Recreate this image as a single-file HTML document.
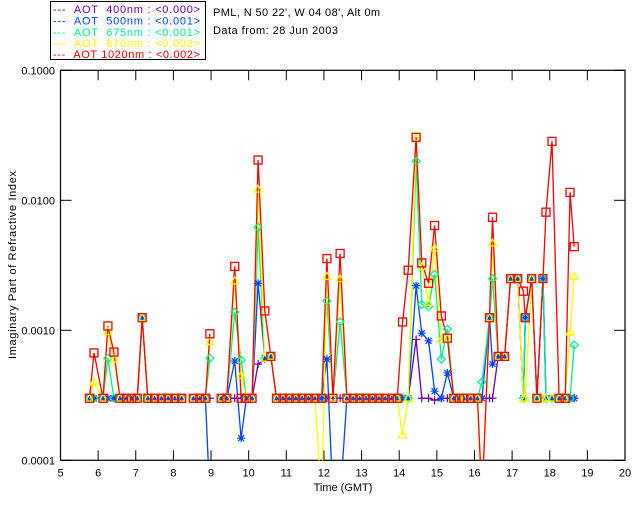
<!DOCTYPE html>
<html><head><meta charset="utf-8"><style>
html,body{margin:0;padding:0;background:#fff;}
svg{display:block;font-family:"Liberation Sans",sans-serif;}
</style></head><body>
<svg id="chart" width="640" height="512" viewBox="0 0 640 512" xmlns="http://www.w3.org/2000/svg">
<rect width="640" height="512" fill="#fff"/>
<g>
<rect x="50.5" y="1.5" width="155" height="58" fill="#fff" stroke="#000" stroke-width="1"/>
<text x="53" y="13" font-size="11" fill="#6600aa" textLength="147" lengthAdjust="spacing">--- &#160;AOT &#160;400nm : &lt;0.000&gt;</text>
<text x="53" y="24.5" font-size="11" fill="#0044ff" textLength="147" lengthAdjust="spacing">--- &#160;AOT &#160;500nm : &lt;0.001&gt;</text>
<text x="53" y="36" font-size="11" fill="#00ee88" textLength="147" lengthAdjust="spacing">--- &#160;AOT &#160;675nm : &lt;0.001&gt;</text>
<text x="53" y="47" font-size="11" fill="#ffff00" textLength="147" lengthAdjust="spacing">--- &#160;AOT &#160;870nm : &lt;0.002&gt;</text>
<text x="53" y="58" font-size="11" fill="#ff0000" textLength="147" lengthAdjust="spacing">--- &#160;AOT 1020nm : &lt;0.002&gt;</text>
</g>
<text x="213" y="16" font-size="11" fill="#000" textLength="167" lengthAdjust="spacing">PML, N 50 22', W 04 08', Alt 0m</text>
<text x="213" y="34" font-size="11" fill="#000" textLength="125" lengthAdjust="spacing">Data from: 28 Jun 2003</text>
<g id="axes"></g>
<defs><clipPath id="clip"><rect x="60.5" y="70" width="565" height="390.5"/></clipPath></defs>
<g id="series" clip-path="url(#clip)"></g>
<g id="markers" clip-path="url(#clip)"></g>
<text x="16" y="265" font-size="11" fill="#000" text-anchor="middle" textLength="188" lengthAdjust="spacing" transform="rotate(-90 16 265)">Imaginary Part of Refractive Index</text>
<text x="343" y="491" font-size="11" fill="#000" text-anchor="middle">Time (GMT)</text>
</svg>
<script>
const B = 0.0003, L = 0.00005;
const times = [5.77,5.89,6.13,6.26,6.42,6.58,6.75,6.89,7.04,7.17,7.32,7.50,7.68,7.86,8.04,8.22,8.38,8.53,8.70,8.85,8.97,9.12,9.27,9.42,9.63,9.80,9.94,10.09,10.25,10.43,10.59,10.74,10.91,11.08,11.25,11.42,11.59,11.76,11.94,12.08,12.24,12.43,12.61,12.78,12.95,13.12,13.29,13.46,13.63,13.80,13.95,14.09,14.24,14.45,14.60,14.78,14.94,15.12,15.28,15.45,15.60,15.72,15.90,16.08,16.20,16.40,16.48,16.63,16.80,16.96,17.15,17.30,17.35,17.52,17.66,17.82,17.90,18.06,18.25,18.41,18.54,18.65];
const aot400 = [B,B,B,B,B,B,B,B,B,0.00125,B,B,B,B,B,B,null,B,B,B,B,null,B,B,B,B,B,B,0.00055,0.0006,0.00063,B,B,B,B,B,B,B,B,B,B,B,B,B,B,B,B,B,B,B,B,B,B,0.00085,B,B,0.00029,B,B,B,B,B,B,B,B,B,B,0.00063,0.00063,0.0025,0.0025,B,0.00125,0.0025,B,0.0025,B,B,B,B,B,B];
const aot500 = [B,B,B,B,B,B,B,B,B,0.00125,B,B,B,B,B,B,null,B,B,B,L,null,B,B,0.00058,0.000148,B,B,0.0023,0.00061,0.00063,B,B,B,B,B,B,B,B,0.0006,L,L,B,B,B,B,B,B,B,B,B,B,B,0.0022,0.00095,0.00083,0.00034,B,0.00047,B,B,B,B,B,B,0.00125,0.00055,0.00063,0.00063,0.0025,0.0025,B,0.00125,0.0025,B,0.0025,B,B,B,B,B,B];
const aot675 = [B,B,B,0.00061,B,B,B,B,B,0.00125,B,B,B,B,B,B,null,B,B,B,0.00061,null,B,B,0.00138,0.00059,B,B,0.0062,0.00061,0.00063,B,B,B,B,B,B,B,B,0.00168,B,0.00116,B,B,B,B,B,B,B,B,B,B,B,0.02,0.00158,0.00152,0.0027,0.0006,0.00102,B,B,B,B,B,0.0004,0.00125,0.0025,0.00063,0.00063,0.0025,0.0025,B,0.00125,0.0025,B,0.0025,B,B,B,B,B,0.00077];
const aot870 = [B,0.0004,B,0.00098,0.0006,B,B,B,B,0.00125,B,B,B,B,B,B,null,B,B,B,0.00082,null,B,B,0.0024,0.00045,B,B,0.0122,0.00061,0.00063,B,B,B,B,B,B,B,L,0.0026,B,0.0025,B,B,B,B,B,B,B,B,B,0.000157,B,0.0305,0.0031,0.00164,0.0043,0.00085,0.00087,B,B,B,B,B,L,0.00125,0.0047,0.00063,0.00063,0.0025,0.0025,B,B,0.0025,B,B,B,B,B,B,0.00097,0.0026];
const aot1020 = [B,0.00067,B,0.00108,0.00068,B,B,B,B,0.00125,B,B,B,B,B,B,null,B,B,B,0.00094,null,B,B,0.0031,B,B,B,0.0204,0.00141,0.00063,B,B,B,B,B,B,B,B,0.00356,B,0.0039,B,B,B,B,B,B,B,B,B,0.00116,0.0029,0.0305,0.0033,0.0023,0.0064,0.00129,0.00087,B,B,B,B,B,L,0.00125,0.0074,0.00063,0.00063,0.0025,0.0025,0.002,0.00125,0.0025,B,0.0025,0.0081,0.0284,B,B,0.0115,0.0044];
const xTicks = [5,6,7,8,9,10,11,12,13,14,15,16,17,18,19,20];
const yTicks = [0.0001,0.001,0.01,0.1];
const yTickLabels = ["0.0001","0.0010","0.0100","0.1000"];

const X0=60.5,X1=625,Y0=460.3,Y1=70.3;
function xs(t){return X0+(t-5)/15*(X1-X0);}
function ys(v){return Y0-(Math.log10(v)+4)/3*(Y0-Y1);}
const NS="http://www.w3.org/2000/svg";
function mk(tag,attrs,parent){const e=document.createElementNS(NS,tag);for(const k in attrs)e.setAttribute(k,attrs[k]);parent.appendChild(e);return e;}
const ax=document.getElementById('axes');
const frame=mk('rect',{x:X0,y:Y1,width:X1-X0,height:Y0-Y1,fill:'none',stroke:'#000','stroke-width':1.2},ax);


xTicks.forEach(t=>{
  const x=xs(t);
  const a=mk('line',{x1:x,x2:x,y1:Y0,y2:Y0-10,stroke:'#000'},ax);
  
  
  const b=mk('line',{x1:x,x2:x,y1:Y1,y2:Y1+10,stroke:'#000'},ax);
  
  
  const l=mk('text',{x:x,y:Y0+16,'font-size':11,'text-anchor':'middle',fill:'#000'},ax);
  l.textContent=t;
  
  
});
yTicks.forEach((v,i)=>{
  const y=ys(v);
  const a=mk('line',{x1:X0,x2:X0+11,y1:y,y2:y,stroke:'#000'},ax);
  
  
  const b=mk('line',{x1:X1,x2:X1-11,y1:y,y2:y,stroke:'#000'},ax);
  
  
  const l=mk('text',{x:55,y:y+4,'font-size':11,'text-anchor':'end',fill:'#000'},ax);
  l.textContent=yTickLabels[i];
  
  
});
const series=[
  {d:aot400,c:'#6600aa',m:'plus',n:'aot-400'},
  {d:aot500,c:'#0044ff',m:'star',n:'aot-500'},
  {d:aot675,c:'#00ee88',m:'diamond',n:'aot-675'},
  {d:aot870,c:'#ffff00',m:'triangle',n:'aot-870'},
  {d:aot1020,c:'#ff0000',m:'square',n:'aot-1020'}
];
const sg=document.getElementById('series'), mg=document.getElementById('markers');
series.forEach(s=>{
  let d='',pen=false;
  times.forEach((t,i)=>{
    const v=s.d[i];
    if(v==null){pen=false;return;}
    d+=(pen?'L':'M')+xs(t).toFixed(1)+' '+ys(v).toFixed(1);
    pen=true;
  });
  const p=mk('path',{d:d,fill:'none',stroke:s.c,'stroke-width':1.3},sg);
  
  
});
series.forEach(s=>{
  times.forEach((t,i)=>{
    const v=s.d[i];
    if(v==null||v<0.0001)return;
    const x=xs(t),y=ys(v);
    let e;
    if(s.m==='square') e=mk('rect',{x:x-4,y:y-4,width:8,height:8,fill:'none',stroke:s.c,'stroke-width':1.3},mg);
    else if(s.m==='triangle') e=mk('path',{d:`M${x} ${y-4}L${x+4} ${y+3}L${x-4} ${y+3}Z`,fill:'none',stroke:s.c,'stroke-width':1.2},mg);
    else if(s.m==='diamond') e=mk('path',{d:`M${x} ${y-4}L${x+4} ${y}L${x} ${y+4}L${x-4} ${y}Z`,fill:'none',stroke:s.c,'stroke-width':1.2},mg);
    else if(s.m==='star') e=mk('path',{d:`M${x-4} ${y}H${x+4}M${x} ${y-4}V${y+4}M${x-3} ${y-3}L${x+3} ${y+3}M${x-3} ${y+3}L${x+3} ${y-3}`,fill:'none',stroke:s.c,'stroke-width':1.2},mg);
    else e=mk('path',{d:`M${x-4} ${y}H${x+4}M${x} ${y-4}V${y+4}`,fill:'none',stroke:s.c,'stroke-width':1.2},mg);
    
    
  });
});
</script>
</body></html>
